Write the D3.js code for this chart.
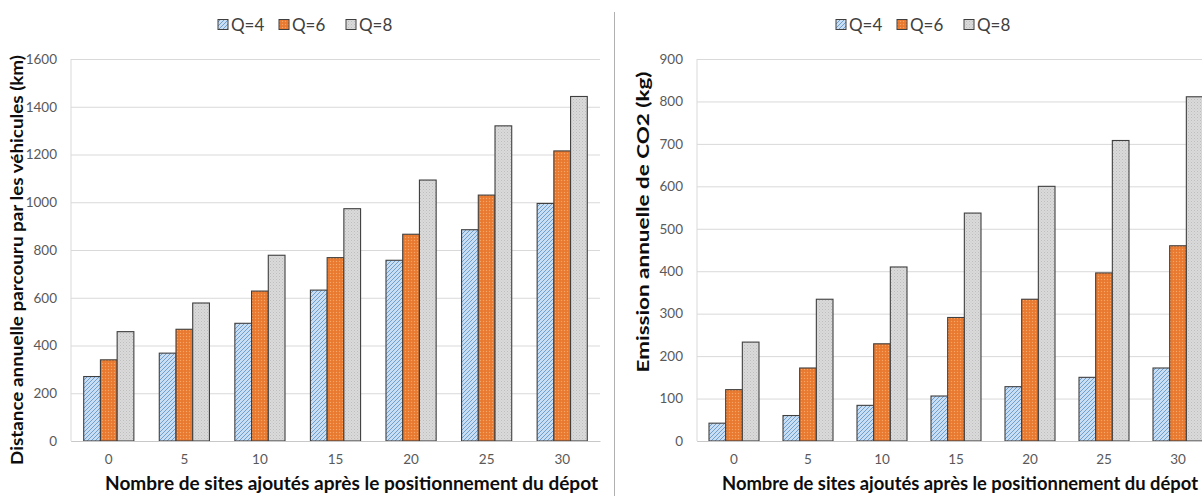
<!DOCTYPE html>
<html>
<head>
<meta charset="utf-8">
<script src="https://cdn.jsdelivr.net/npm/d3@7"></script>
<style>
  html, body { margin: 0; padding: 0; background: #fff; }
  svg { display: block; }
  text { font-family: Lato, "Open Sans", "Noto Sans", sans-serif; }
</style>
</head>
<body>
<svg id="chart" width="1202" height="496"></svg>
<script>
// ---- data ----
const categories = ["0", "5", "10", "15", "20", "25", "30"];
const seriesNames = ["Q=4", "Q=6", "Q=8"];

const distanceQ4 = [270, 368, 493, 632, 757, 885, 995];
const distanceQ6 = [340, 468, 628, 768, 866, 1030, 1215];
const distanceQ8 = [458, 578, 778, 973, 1093, 1320, 1443];

const co2Q4 = [42, 60, 84, 106, 128, 150, 172];
const co2Q6 = [121, 172, 229, 291, 334, 396, 460];
const co2Q8 = [233, 334, 410, 537, 600, 708, 811];

const distanceTicks = [0, 200, 400, 600, 800, 1000, 1200, 1400, 1600];
const co2Ticks = [0, 100, 200, 300, 400, 500, 600, 700, 800, 900];

const xTitle = "Nombre de sites ajoutés après le positionnement du dépot";
const distanceTitle = "Distance annuelle parcouru par les véhicules (km)";
const co2Title = "Emission annuelle de CO2 (kg)";

// ---- setup ----
const svg = d3.select("#chart");
const defs = svg.append("defs");

// patterns
const pBlue = defs.append("pattern").attr("id", "pBlue")
  .attr("patternUnits", "userSpaceOnUse").attr("width", 4).attr("height", 4);
pBlue.append("rect").attr("width", 4).attr("height", 4).attr("fill", "#c9def3");
pBlue.append("path").attr("d", "M-1,1 l2,-2 M0,4 l4,-4 M3,5 l2,-2")
  .attr("stroke", "#6e9fd2").attr("stroke-width", 1);

const pOrange = defs.append("pattern").attr("id", "pOrange")
  .attr("patternUnits", "userSpaceOnUse").attr("width", 3).attr("height", 3);
pOrange.append("rect").attr("width", 3).attr("height", 3).attr("fill", "#ec7e33");
pOrange.append("rect").attr("width", 1).attr("height", 1).attr("fill", "#f5a46a");
pOrange.append("rect").attr("x", 1.5).attr("y", 1.5).attr("width", 1).attr("height", 1).attr("fill", "#d9692a");

const pGray = defs.append("pattern").attr("id", "pGray")
  .attr("patternUnits", "userSpaceOnUse").attr("width", 3).attr("height", 3);
pGray.append("rect").attr("width", 3).attr("height", 3).attr("fill", "#dadada");
pGray.append("rect").attr("width", 1).attr("height", 1).attr("fill", "#bdbdbd");
pGray.append("rect").attr("x", 1.5).attr("y", 1.5).attr("width", 1).attr("height", 1).attr("fill", "#c6c6c6");

const fills = ["url(#pBlue)", "url(#pOrange)", "url(#pGray)"];

function drawChart(cfg) {
  const g = svg.append("g");
  const x = d3.scaleBand().domain(categories).range([cfg.x0, cfg.x1]);
  const xs = d3.scaleBand().domain(seriesNames).range([0, x.bandwidth()])
    .paddingInner(0).paddingOuter(cfg.pad);
  const y = d3.scaleLinear().domain([0, cfg.max]).range([cfg.y1, cfg.y0]);

  // y axis with gridlines
  const yAxis = g.append("g").attr("transform", `translate(${cfg.x0},0)`)
    .call(d3.axisLeft(y).tickValues(cfg.ticks).tickFormat(d3.format("d"))
      .tickSize(-(cfg.x1 - cfg.x0)).tickPadding(14));
  yAxis.select(".domain").remove();
  yAxis.selectAll(".tick line").attr("stroke", "#d9d9d9").attr("stroke-width", 1);
  yAxis.selectAll(".tick text").attr("fill", "#595959").attr("font-size", 13.5)
    .style("font-family", "Lato, 'Open Sans', sans-serif");

  // left axis line
  g.append("line").attr("x1", cfg.x0).attr("x2", cfg.x0)
    .attr("y1", cfg.y0).attr("y2", cfg.y1).attr("stroke", "#d9d9d9");

  // bars
  const series = cfg.values;
  series.forEach((vals, si) => {
    g.append("g").selectAll("rect").data(vals).join("rect")
      .attr("x", (d, i) => x(categories[i]) + xs(seriesNames[si]))
      .attr("y", d => y(d))
      .attr("width", xs.bandwidth())
      .attr("height", d => y(0) - y(d))
      .attr("fill", fills[si])
      .attr("stroke", "#3f3f3f")
      .attr("stroke-width", 1.1);
  });

  // x axis
  const xAxis = g.append("g").attr("transform", `translate(0,${cfg.y1})`)
    .call(d3.axisBottom(x).tickSize(0).tickPadding(13.5));
  xAxis.select(".domain").attr("stroke", "#c8c8c8");
  xAxis.selectAll(".tick text").attr("fill", "#595959").attr("font-size", 13.5)
    .style("font-family", "Lato, 'Open Sans', sans-serif");

  // x title
  g.append("text").attr("x", cfg.xtStart).attr("y", 490)
    .attr("font-size", 18).attr("font-weight", "bold").attr("fill", "#0d0d0d")
    .attr("textLength", cfg.xtWidth).attr("lengthAdjust", "spacingAndGlyphs")
    .text(xTitle);

  // y title
  g.append("text")
    .attr("transform", `translate(${cfg.ytX},${cfg.ytY}) rotate(-90)`)
    .attr("text-anchor", "middle").attr("dy", "0.36em")
    .attr("font-size", 17.5).attr("font-weight", "bold").attr("fill", "#0d0d0d")
    .attr("textLength", cfg.ytLen).attr("lengthAdjust", "spacingAndGlyphs")
    .text(cfg.yTitle);

  // legend
  const lg = g.append("g");
  const lx = [218, 279, 346].map(v => v + cfg.off);
  seriesNames.forEach((name, i) => {
    lg.append("rect").attr("x", lx[i]).attr("y", 19.5).attr("width", 10).attr("height", 10)
      .attr("fill", fills[i]).attr("stroke", "#3f3f3f").attr("stroke-width", 1);
    lg.append("text").attr("x", lx[i] + 13).attr("y", 31)
      .attr("font-size", 17).attr("fill", "#404040").text(name);
  });
}

drawChart({
  x0: 71, x1: 600, y0: 59, y1: 441, max: 1600, ticks: distanceTicks, pad: 0.76,
  values: [distanceQ4, distanceQ6, distanceQ8],
  xtStart: 105, xtWidth: 493,
  ytX: 17, ytY: 260, ytLen: 410, yTitle: distanceTitle, off: 0
});

drawChart({
  x0: 697, x1: 1215, y0: 59, y1: 441, max: 900, ticks: co2Ticks, pad: 0.72,
  values: [co2Q4, co2Q6, co2Q8],
  xtStart: 722, xtWidth: 476,
  ytX: 643, ytY: 222, ytLen: 301, yTitle: co2Title, off: 618
});

// divider
svg.append("line").attr("x1", 614.5).attr("x2", 614.5).attr("y1", 12).attr("y2", 496)
  .attr("stroke", "#b0b0b0").attr("stroke-width", 1);
</script>
</body>
</html>
